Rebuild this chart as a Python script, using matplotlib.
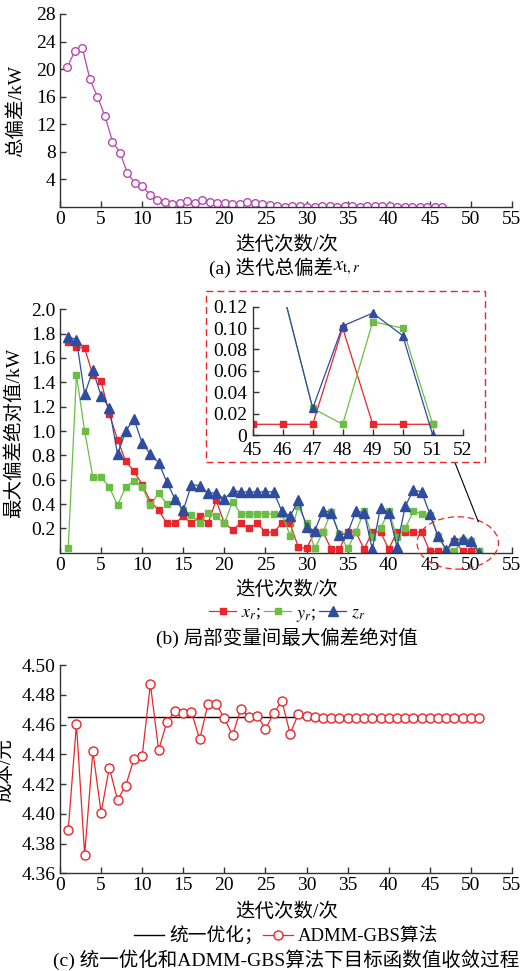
import numpy as np
import matplotlib
matplotlib.use("Agg")
import matplotlib.pyplot as plt
from matplotlib.patches import Rectangle, Ellipse
from matplotlib.lines import Line2D

plt.rcParams['font.family'] = ['Liberation Serif', 'DejaVu Serif', 'Noto Sans CJK SC']
plt.rcParams['mathtext.fontset'] = 'stix'
plt.rcParams['axes.unicode_minus'] = False

# ---------------- data ----------------
iters = np.arange(1, 52)
a_xscale = 0.912  # panel (a) points are drawn compressed along x in the original

total_dev = [20.3, 22.7, 23.0, 18.5, 16.0, 13.2, 9.5, 7.9, 4.9, 3.5,
             3.0, 1.8, 0.97, 0.73, 0.48, 0.53, 0.87, 0.58, 1.07, 0.68,
             0.63, 0.58, 0.44, 0.44, 0.73, 0.58, 0.39, 0.34, 0.10, 0.05,
             0.20, 0.20, 0.02, 0.05, 0.20, 0.20, 0.02, 0.20, 0.15, 0.05,
             0.15, 0.20, 0.20, 0.20, 0.05, 0.02, 0.02, 0.02, 0.02, 0.02, 0.02]

x_r = [1.73, 1.69, 1.68, 1.46, 1.41, 1.14, 0.93, 0.75, 0.67, 0.56,
       0.42, 0.35, 0.24, 0.24, 0.30, 0.24, 0.30, 0.24, 0.43, 0.24,
       0.19, 0.24, 0.20, 0.24, 0.17, 0.17, 0.24, 0.24, 0.045, 0.035,
       0.17, 0.17, 0.03, 0.03, 0.17, 0.17, 0.03, 0.17, 0.17, 0.03,
       0.17, 0.17, 0.17, 0.17, 0.01, 0.01, 0.01, 0.10, 0.01, 0.01, 0.01]

y_r = [0.035, 1.46, 1.00, 0.62, 0.62, 0.54, 0.39, 0.54, 0.59, 0.54,
       0.39, 0.49, 0.40, 0.43, 0.35, 0.31, 0.24, 0.33, 0.30, 0.24,
       0.42, 0.32, 0.32, 0.32, 0.32, 0.32, 0.32, 0.14, 0.38, 0.24,
       0.035, 0.17, 0.335, 0.15, 0.035, 0.17, 0.34, 0.13, 0.20, 0.34,
       0.13, 0.20, 0.34, 0.32, 0.31, 0.135, 0.025, 0.01, 0.106, 0.10, 0.01]

z_r = [1.775, 1.75, 1.30, 1.50, 1.29, 1.19, 0.81, 1.00, 1.10, 0.90,
       0.81, 0.74, 0.58, 0.44, 0.35, 0.56, 0.55, 0.49, 0.49, 0.44,
       0.51, 0.50, 0.50, 0.50, 0.50, 0.50, 0.34, 0.30, 0.43, 0.21,
       0.18, 0.345, 0.33, 0.145, 0.16, 0.34, 0.33, 0.03, 0.37, 0.33,
       0.05, 0.38, 0.515, 0.50, 0.32, 0.135, 0.025, 0.102, 0.114, 0.093, 0.0]

cost_admm = [4.389, 4.4604, 4.3726, 4.442, 4.4008, 4.431, 4.4093, 4.419, 4.4368, 4.4389,
             4.4872, 4.4429, 4.4615, 4.4693, 4.4675, 4.4682, 4.4501, 4.4738, 4.4736, 4.4642,
             4.4527, 4.4704, 4.4653, 4.466, 4.457, 4.4675, 4.4758, 4.4539, 4.4669, 4.466,
             4.4651, 4.4646, 4.4646, 4.4646, 4.4646, 4.4646, 4.4646, 4.4646, 4.4646, 4.4646,
             4.4646, 4.4646, 4.4646, 4.4646, 4.4646, 4.4646, 4.4646, 4.4646, 4.4646, 4.4646, 4.4646]
cost_unified = 4.465

xticks = np.arange(0, 56, 5)
yticks_a = np.arange(4, 29, 4)
yticks_b = np.round(np.arange(0.2, 2.01, 0.2), 1)
yticks_c = np.round(np.arange(4.36, 4.501, 0.02), 2)
inset_xticks = np.arange(45, 53)
inset_yticks = np.round(np.arange(0, 0.121, 0.02), 2)

# ---------------- style ----------------
C_A = '#B548B0'
C_R = '#E8262B'
C_G = '#6CBD45'
C_B = '#2F4C9E'
SPINE = '#333333'
FS = 14
W, H = 523, 971

fig = plt.figure(figsize=(W / 100, H / 100), dpi=100)


def fx(px):
    return px / W


def fy(py):
    return 1 - py / H


def style_axes(ax, fs=FS):
    for s in ['top', 'right']:
        ax.spines[s].set_visible(False)
    for s in ['left', 'bottom']:
        ax.spines[s].set_color(SPINE)
        ax.spines[s].set_linewidth(1.0)
    ax.tick_params(direction='in', length=4, width=1.0, color=SPINE,
                   labelsize=fs, pad=3)


def add_axes_px(x0, x1, y_top, y_bot):
    return fig.add_axes([fx(x0), fy(y_bot), fx(x1) - fx(x0), fy(y_top) - fy(y_bot)])


# ---------------- panel (a) ----------------
axa = add_axes_px(60, 512, 14, 207)
axa.plot(iters * a_xscale, total_dev, color=C_A, lw=0.9, marker='o', ms=5.5,
         mfc='white', mec=C_A, mew=1.0)
axa.set_xlim(0, 55)
axa.set_ylim(0, 28)
axa.set_xticks(xticks)
axa.set_yticks(yticks_a)
style_axes(axa)
fig.text(fx(16), fy(111), '总偏差/kW', rotation=90, ha='center', va='center', fontsize=FS)
fig.text(fx(287), fy(245), '迭代次数/次', ha='center', va='center', fontsize=FS)
fig.text(fx(333), fy(268), '(a) 迭代总偏差', ha='right', va='center', fontsize=FS)
fig.text(fx(333), fy(268), r'$x_{\mathrm{t},r}$', ha='left', va='center', fontsize=FS + 1)

# ---------------- panel (b) ----------------
axb = add_axes_px(60, 512, 309.3, 552.7)
kw = dict(lw=0.9, ms=5)
axb.plot(iters, x_r, color=C_R, marker='s', **kw, label=r'$x_r$;')
axb.plot(iters, y_r, color=C_G, marker='s', **kw, label=r'$y_r$;')
axb.plot(iters, z_r, color=C_B, marker='^', lw=0.9, ms=6.5, label=r'$z_r$')
axb.set_xlim(0, 55)
axb.set_ylim(0, 2.0)
axb.set_xticks(xticks)
axb.set_yticks(yticks_b)
axb.set_yticklabels([f'{v:.1f}' for v in yticks_b])
style_axes(axb)
fig.text(fx(14), fy(433), '最大偏差绝对值/kW', rotation=90, ha='center', va='center', fontsize=FS)
fig.text(fx(287), fy(590), '迭代次数/次', ha='center', va='center', fontsize=FS)
fig.text(fx(287), fy(638), '(b) 局部变量间最大偏差绝对值', ha='center', va='center', fontsize=FS)
fig.legend(loc='center', bbox_to_anchor=(fx(287), fy(614)), ncol=3, frameon=False,
           fontsize=13, handlelength=1.5, handletextpad=0.25, columnspacing=0.2,
           borderpad=0.1)

# zoom ellipse + connector
ell = Ellipse((48.4, 0.08), 9.9, 0.43, transform=axb.transData, fill=False,
              edgecolor=C_R, ls=(0, (5, 3)), lw=0.9, clip_on=False, zorder=5)
axb.add_patch(ell)
fig.add_artist(Line2D([fx(455), fx(478.3)], [fy(462.7), fy(521.7)], color='black', lw=0.8))

# inset box
box = Rectangle((fx(205.7), fy(461.7)), fx(485) - fx(205.7), fy(291) - fy(461.7),
                transform=fig.transFigure, facecolor='white', edgecolor=C_R,
                ls=(0, (5, 3)), lw=1.0, zorder=2)
fig.add_artist(box)

axi = add_axes_px(252.7, 462.7, 306.7, 435)
axi.set_zorder(3)
axi.patch.set_alpha(0)
axi.plot(iters, x_r, color=C_R, marker='s', lw=0.9, ms=4.5)
axi.plot(iters, y_r, color=C_G, marker='s', lw=0.9, ms=4.5)
axi.plot(iters, z_r, color=C_B, marker='^', lw=0.9, ms=5.5)
axi.set_xlim(45, 52)
axi.set_ylim(0, 0.12)
axi.set_xticks(inset_xticks)
axi.set_yticks(inset_yticks)
axi.set_yticklabels(['0'] + [f'{v:.2f}' for v in inset_yticks[1:]])
style_axes(axi)
axi.tick_params(axis='y', pad=4)
axi.tick_params(axis='x', pad=5)

# ---------------- panel (c) ----------------
axc = add_axes_px(60, 512, 665, 873.3)
axc.plot([1, 51.3], [cost_unified, cost_unified], color='black', lw=1.0, label='统一优化；')
axc.plot(iters, cost_admm, color=C_R, lw=0.9, marker='o', ms=6.5, mfc='white',
         mec=C_R, mew=1.0, label='ADMM-GBS算法')
axc.set_xlim(0, 55)
axc.set_ylim(4.36, 4.50)
axc.set_xticks(xticks)
axc.set_yticks(yticks_c)
axc.set_yticklabels([f'{v:.2f}' for v in yticks_c])
style_axes(axc)
fig.text(fx(5), fy(770), '成本/元', rotation=90, ha='center', va='center', fontsize=FS)
fig.text(fx(287), fy(911.7), '迭代次数/次', ha='center', va='center', fontsize=FS)
fig.text(fx(286), fy(960), '(c) 统一优化和ADMM-GBS算法下目标函数值收敛过程',
         ha='center', va='center', fontsize=FS)
fig.legend(handles=axc.get_lines(), loc='center', bbox_to_anchor=(fx(286), fy(936)),
           ncol=2, frameon=False, fontsize=13.5, handlelength=1.6, handletextpad=0.25,
           columnspacing=0.0, borderpad=0.1)

fig.savefig('out.png', dpi=100)
